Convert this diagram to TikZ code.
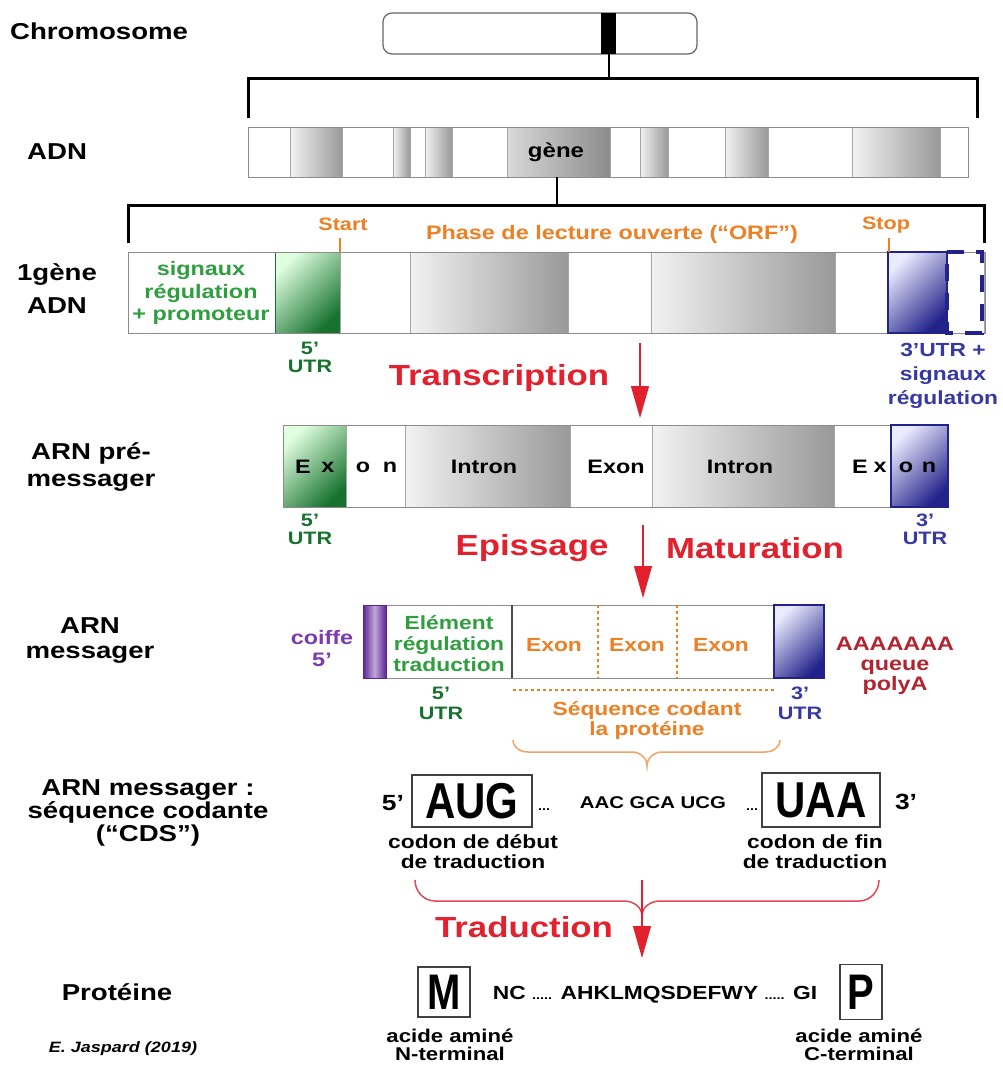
\documentclass[tikz,border=0pt]{standalone}
\usepackage{fontspec}
\setmainfont{Liberation Sans}[FakeStretch=1.2]
\newfontfamily\plainf{Liberation Sans}
\usetikzlibrary{arrows.meta}
\definecolor{gtxt}{HTML}{2E9E3E}
\definecolor{gdark}{HTML}{17722F}
\definecolor{otxt}{HTML}{EE7F22}
\definecolor{btxt}{HTML}{3838A4}
\definecolor{bdark}{HTML}{22228A}
\definecolor{ptxt}{HTML}{7B3AAE}
\definecolor{pdark}{HTML}{5A2590}
\definecolor{rtxt}{HTML}{E3202D}
\definecolor{dred}{HTML}{B02530}
\definecolor{pinkred}{HTML}{E0485A}
\begin{document}
\begin{tikzpicture}[x=1pt,y=-1pt,
  lab/.style={font=\bfseries\fontsize{23}{26}\selectfont, align=center, inner sep=0},
  txt/.style={font=\bfseries\fontsize{19.5}{22}\selectfont, align=center, inner sep=0},
  utr/.style={font=\bfseries\fontsize{18}{18}\selectfont, align=center, inner sep=0},
  redlab/.style={font=\bfseries\fontsize{29}{32}\selectfont, text=rtxt, inner sep=0},
  wseg/.style={fill=white, draw=black!35, line width=0.8},
  gseg/.style={left color=black!5, right color=black!40, draw=black!35, line width=0.8},
  gsegd/.style={left color=black!15, right color=black!45, draw=black!35, line width=0.8},
  greenseg/.style={top color=green!12!white, bottom color=gdark, shading angle=45, draw=gdark, line width=1},
  blueseg/.style={top color=blue!8!white, bottom color=bdark, shading angle=45, draw=bdark, line width=2},
  redarrow/.style={draw=rtxt, line width=1.2, -{Triangle[width=18pt,length=32pt]}},
  codonbox/.style={draw=black!75, line width=1.2, inner sep=0},
  bracket/.style={line width=3, black}
]
\useasboundingbox (0,0) rectangle (1002,1068);
\fill[white] (0,0) rectangle (1002,1068);

% ---------- Chromosome ----------
\node[lab, anchor=west] (chr) at (10,31) {Chromosome};
\draw[rounded corners=9, draw=black!60, line width=1.2] (383,13) rectangle (697,54);
\fill[black] (601,13) rectangle (616,54);
\coordinate (band) at (609,54);
\coordinate (brtop) at (609,78);
\draw[line width=2] (band) -- (brtop);
\draw[bracket] (248,118) -- (248,78) -- (977,78) -- (977,118);

% ---------- ADN ----------
\node[lab, anchor=west] (adnl) at (27,152) {ADN};
\foreach \a/\b in {248/290, 342/393, 410/425, 452/507, 610/640, 668/725, 768/852, 940/968}
  \path[wseg] (\a,127) rectangle (\b,177);
\foreach \a/\b in {290/342, 393/410, 425/452, 640/668, 725/768, 852/940}
  \path[gseg] (\a,127) rectangle (\b,177);
\path[gsegd] (507,127) rectangle (610,177);
\node[font=\bfseries\fontsize{20}{20}\selectfont, inner sep=0] (gene) at (556,152) {gène};
\draw[black!45, line width=1] (248,127) rectangle (968,177);
\coordinate (gbot) at (557,177);
\coordinate (gbr) at (557,205);
\draw[line width=2.5] (gbot) -- (gbr);
\draw[bracket] (128,243) -- (128,205) -- (984,205) -- (984,243);

% ---------- 1 gene ADN ----------
\node[font=\bfseries\fontsize{23}{33}\selectfont, align=center, inner sep=0] (genel) at (57,289) {1gène\\ADN};
\path[wseg] (128,252) rectangle (275,333);
\path[greenseg] (275,252) rectangle (340,333);
\path[wseg] (340,252) rectangle (410,333);
\path[gseg] (410,252) rectangle (568,333);
\path[wseg] (568,252) rectangle (651,333);
\path[gseg] (651,252) rectangle (835,333);
\path[wseg] (835,252) rectangle (888,333);
\path[wseg] (947,252) rectangle (984,333);
\draw[black!45, line width=1] (128,252) rectangle (985,333);
\path[blueseg] (888,252) rectangle (947,333);
\draw[bdark, line width=3.2, dash pattern=on 17pt off 12pt] (947,252) -- (982,252) -- (982,333) -- (947,333) -- cycle;
\node[txt, text=gtxt, font=\bfseries\fontsize{19.5}{22.5}\selectfont] (sig) at (201,293) {signaux\\régulation\\+ promoteur};
\node[font=\bfseries\fontsize{18}{18}\selectfont, text=otxt, inner sep=0] (start) at (343,224) {Start};
\node[font=\bfseries\fontsize{18}{18}\selectfont, text=otxt, inner sep=0] (stop) at (886,225) {Stop};
\node[font=\bfseries\fontsize{19.5}{20}\selectfont, text=otxt, inner sep=0] (orf) at (612,234) {Phase de lecture ouverte (“ORF”)};
\coordinate (st1) at (340,238); \coordinate (st2) at (340,252);
\coordinate (sp1) at (889,238); \coordinate (sp2) at (889,252);
\draw[otxt, line width=2.2] (st1) -- (st2);
\draw[otxt, line width=2.2] (sp1) -- (sp2);
\node[utr, text=gdark, font=\bfseries\fontsize{18}{18}\selectfont] (utr5a) at (310,357) {5'\\UTR};
\node[utr, text=btxt, font=\bfseries\fontsize{19}{24}\selectfont] (utr3a) at (943,376) {3'UTR +\\signaux\\régulation};
\node[redlab] (transc) at (499,378) {Transcription};
\coordinate (ta) at (640,343);
\coordinate (tb) at (640,418);
\draw[redarrow] (ta) -- (tb);

% ---------- ARN pre-messager ----------
\node[font=\bfseries\fontsize{23}{27}\selectfont, align=center, inner sep=0] (prel) at (91,467) {ARN pré-\\messager};
\path[greenseg] (283,425) rectangle (346,507);
\path[wseg] (346,425) rectangle (405,507);
\path[gseg] (405,425) rectangle (570,507);
\path[wseg] (570,425) rectangle (652,507);
\path[gseg] (652,425) rectangle (834,507);
\path[wseg] (834,425) rectangle (891,507);
\draw[black!45, line width=1] (283,425) rectangle (948,507);
\path[blueseg] (891,425) rectangle (948,507);
\begin{scope}[every node/.style={font=\bfseries\fontsize{19.5}{20}\selectfont, inner sep=0}]
  \node (e1) at (303,467) {E};
  \node (e2) at (328,467) {x};
  \node (e3) at (363,467) {o};
  \node (e4) at (390,467) {n};
  \node (i1) at (484,467) {Intron};
  \node (ex2) at (616,467) {Exon};
  \node (i2) at (740,467) {Intron};
  \node (e5) at (860,467) {E};
  \node (e6) at (880,467) {x};
  \node (e7) at (906,467) {o};
  \node (e8) at (929,467) {n};
\end{scope}
\node[utr, text=gdark] (utr5b) at (310,529) {5'\\UTR};
\node[utr, text=btxt] (utr3b) at (925,529) {3'\\UTR};
\node[redlab] (epis) at (532,548) {Epissage};
\node[redlab] (matur) at (755,548) {Maturation};
\coordinate (ea) at (643,525);
\coordinate (eb) at (643,598);
\draw[redarrow] (ea) -- (eb);

% ---------- ARN messager ----------
\node[font=\bfseries\fontsize{23}{25}\selectfont, align=center, inner sep=0] (messl) at (90,641) {ARN\\messager};
\path[wseg] (386,605) rectangle (774,678);
\draw[black!45, line width=1] (363,605) rectangle (824,678);
\path[left color=pdark, right color=pdark, middle color=white!55!ptxt, draw=pdark, line width=1] (363,605) rectangle (386,678);
\path[blueseg] (774,605) rectangle (824,678);
\coordinate (dl1) at (512,605); \coordinate (dl2) at (512,678);
\draw[black!70, line width=1.8] (dl1) -- (dl2);
\coordinate (o1a) at (598,605); \coordinate (o1b) at (598,678);
\coordinate (o2a) at (677,605); \coordinate (o2b) at (677,678);
\draw[otxt, line width=2.2, dash pattern=on 3pt off 3pt] (o1a) -- (o1b);
\draw[otxt, line width=2.2, dash pattern=on 3pt off 3pt] (o2a) -- (o2b);
\node[font=\bfseries\fontsize{19}{21}\selectfont, align=center, text=gtxt, inner sep=0] (elem) at (449,644) {Elément\\régulation\\traduction};
\begin{scope}[every node/.style={font=\bfseries\fontsize{19}{20}\selectfont, text=otxt, inner sep=0}]
  \node (x1) at (554,645) {Exon};
  \node (x2) at (637,645) {Exon};
  \node (x3) at (721,645) {Exon};
\end{scope}
\node[font=\bfseries\fontsize{19.5}{22}\selectfont, align=center, text=ptxt, inner sep=0] (coiffe) at (322,649) {coiffe\\5'};
\node[font=\bfseries\fontsize{19.5}{20}\selectfont, align=center, text=dred, inner sep=0] (polya) at (895,666) {AAAAAAA\\queue\\polyA};
\node[utr, text=gdark, font=\bfseries\fontsize{18}{20}\selectfont] (utr5c) at (441,703) {5'\\UTR};
\node[utr, text=btxt, font=\bfseries\fontsize{18}{20}\selectfont] (utr3c) at (800,703) {3'\\UTR};
\coordinate (od1) at (513,690); \coordinate (od2) at (774,690);
\draw[otxt, line width=2.2, dash pattern=on 3pt off 3pt] (od1) -- (od2);
\node[font=\bfseries\fontsize{19}{20}\selectfont, align=center, text=otxt, inner sep=0] (seq) at (647,720) {Séquence codant\\la protéine};
\coordinate (bl) at (513,740); \coordinate (bm) at (647,766); \coordinate (br) at (780,740);
\draw[otxt!70, line width=1.5] (bl) to[out=-90,in=180] (528,752) -- (632,752) to[out=0,in=90] (bm)
   to[out=90,in=180] (662,752) -- (765,752) to[out=0,in=-90] (br);

% ---------- CDS ----------
\node[font=\bfseries\fontsize{23}{23}\selectfont, align=center, inner sep=0] (cdsl) at (148,813) {ARN messager :\\séquence codante\\(“CDS”)};
\node[font=\bfseries\fontsize{22}{22}\selectfont, inner sep=0] (p5) at (393,803) {5'};
\node[codonbox, minimum width=120pt, minimum height=52pt] (aug) at (472,801) {\scalebox{1}[1.2]{\plainf\bfseries\fontsize{42}{42}\selectfont AUG}};
\node[font=\bfseries\fontsize{12}{12}\selectfont, inner sep=0] (d1) at (544,810) {...};
\node[font=\bfseries\fontsize{17}{17}\selectfont, inner sep=0] (mid) at (653,803) {AAC GCA UCG};
\node[font=\bfseries\fontsize{12}{12}\selectfont, inner sep=0] (d2) at (752,810) {...};
\node[codonbox, minimum width=118pt, minimum height=54pt] (uaa) at (821,800) {\scalebox{1}[1.2]{\plainf\bfseries\fontsize{42}{42}\selectfont UAA}};
\node[font=\bfseries\fontsize{22}{22}\selectfont, inner sep=0] (p3) at (906,802) {3'};
\node[font=\bfseries\fontsize{19}{20}\selectfont, align=center, inner sep=0] (cdeb) at (473,852) {codon de début\\de traduction};
\node[font=\bfseries\fontsize{19}{20}\selectfont, align=center, inner sep=0] (cfin) at (815,852) {codon de fin\\de traduction};
\coordinate (rbl) at (415,880); \coordinate (rbm) at (642,916); \coordinate (rbr) at (879,880);
\draw[pinkred, line width=1.5] (rbl) to[out=-90,in=180] (435,901) -- (624,901) to[out=0,in=90] (rbm)
   to[out=90,in=180] (660,901) -- (859,901) to[out=0,in=-90] (rbr);
\node[redlab] (trad) at (524,927) {Traduction};
\coordinate (ra) at (642,880);
\coordinate (rb) at (642,958);
\draw[redarrow] (ra) -- (rb);

% ---------- Proteine ----------
\node[lab] (protl) at (117,992) {Protéine};
\node[codonbox, minimum width=52pt, minimum height=50pt] (mbox) at (444,992) {\scalebox{1}[1.25]{\plainf\bfseries\fontsize{40}{40}\selectfont M}};
\node[font=\bfseries\fontsize{19}{19}\selectfont, inner sep=0] (aaseq) at (655,995) {NC {\fontsize{12}{12}\selectfont .....} AHKLMQSDEFWY {\fontsize{12}{12}\selectfont .....} GI};
\node[codonbox, minimum width=42pt, minimum height=55pt] (pbox) at (861,992) {\scalebox{1}[1.25]{\plainf\bfseries\fontsize{40}{40}\selectfont P}};
\node[font=\bfseries\fontsize{18.5}{18.5}\selectfont, align=center, inner sep=0] (nterm) at (450,1045) {acide aminé\\N-terminal};
\node[font=\bfseries\fontsize{18.5}{18.5}\selectfont, align=center, inner sep=0] (cterm) at (859,1045) {acide aminé\\C-terminal};
\node[font=\bfseries\itshape\fontsize{15}{15}\selectfont, inner sep=0] (auth) at (123,1049) {E. Jaspard (2019)};
\end{tikzpicture}
\end{document}
